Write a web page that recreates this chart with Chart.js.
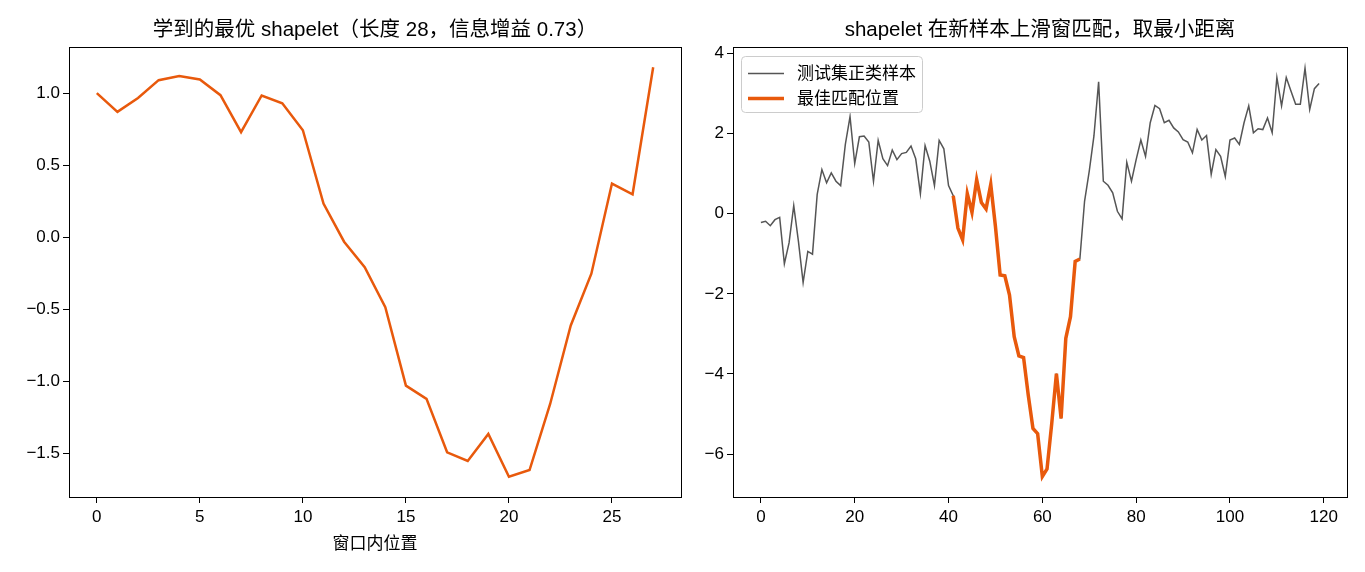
<!DOCTYPE html>
<html>
<head>
<meta charset="utf-8">
<script src="https://cdn.jsdelivr.net/npm/chart.js@4.4.0/dist/chart.umd.min.js"></script>
<style>
  body { margin: 0; background: #fff; }
  #wrap { position: relative; width: 1365px; height: 572px; }
  canvas { position: absolute; top: 0; }
</style>
</head>
<body>
<div id="wrap">
  <canvas id="left" width="700" height="572" style="left:0"></canvas>
  <canvas id="right" width="675" height="572" style="left:690px"></canvas>
</div>
<script>
// 左图：学到的 shapelet
const shapeletVals = [1.0, 0.87, 0.967, 1.09, 1.118, 1.095, 0.986, 0.73, 0.984, 0.93,
	0.743, 0.234, -0.03, -0.206, -0.484, -1.028, -1.12, -1.49, -1.55, -1.363,
	-1.66, -1.613, -1.155, -0.611, -0.252, 0.373, 0.299, 1.18];
const leftXTicks = [0, 5, 10, 15, 20, 25];
const leftYTicks = [-1.5, -1.0, -0.5, 0.0, 0.5, 1.0];

// 右图：测试集正类样本 + 最佳匹配位置
const sampleVals = [-0.22, -0.19, -0.3, -0.15, -0.09, -1.25, -0.73, 0.2, -0.69, -1.72,
	-0.94, -1.01, 0.48, 1.1, 0.77, 1.02, 0.81, 0.7, 1.73, 2.42,
	1.25, 1.92, 1.94, 1.79, 0.81, 1.83, 1.37, 1.2, 1.59, 1.35,
	1.5, 1.53, 1.69, 1.37, 0.5, 1.7, 1.31, 0.7, 1.83, 1.62,
	0.7, 0.45, -0.36, -0.65, 0.5, 0.03, 0.85, 0.28, 0.12, 0.73,
	-0.32, -1.53, -1.55, -2.03, -3.07, -3.55, -3.59, -4.53, -5.36, -5.49,
	-6.56, -6.37, -5.24, -3.99, -5.11, -3.11, -2.57, -1.19, -1.13, 0.31,
	1.06, 1.94, 3.29, 0.81, 0.71, 0.52, 0.06, -0.13, 1.28, 0.81,
	1.35, 1.84, 1.43, 2.27, 2.70, 2.62, 2.27, 2.33, 2.14, 2.04,
	1.85, 1.79, 1.52, 2.10, 1.84, 1.95, 0.98, 1.60, 1.43, 0.93,
	1.84, 1.89, 1.73, 2.27, 2.69, 2.02, 2.12, 2.10, 2.39, 2.02,
	3.40, 2.69, 3.40, 3.06, 2.73, 2.73, 3.63, 2.60, 3.12, 3.25];
const matchStart = 41;
const matchLen = 28;
const rightXTicks = [0, 20, 40, 60, 80, 100, 120];
const rightYTicks = [-6, -4, -2, 0, 2, 4];

const legendLabels = ["测试集正类样本", "最佳匹配位置"];

const ORANGE = "#e8590c";
const GREY = "#555555";
const FONT = "'Liberation Sans', 'Noto Sans CJK SC', sans-serif";

Chart.defaults.font.family = FONT;
Chart.defaults.color = "#000";

function pts(vals, start) {
	return vals.map((v, i) => ({ x: i + start, y: v }));
}
function minus(s) { return String(s).replace("-", "\u2212"); }

// 四边黑框（matplotlib 风格）
const framePlugin = {
	id: "frame",
	afterDraw(chart) {
		const a = chart.chartArea, ctx = chart.ctx;
		ctx.save();
		ctx.strokeStyle = "#000";
		ctx.lineWidth = 1;
		ctx.strokeRect(Math.round(a.left) + 0.5, Math.round(a.top) + 0.5,
			Math.round(a.right - a.left), Math.round(a.bottom - a.top));
		ctx.restore();
	}
};

// 图内左上角图例
const boxLegend = {
	id: "boxLegend",
	afterDraw(chart) {
		const a = chart.chartArea, ctx = chart.ctx;
		const x = a.left + 8.5, y = a.top + 9.5, w = 181, h = 56;
		ctx.save();
		ctx.fillStyle = "rgba(255,255,255,0.8)";
		ctx.strokeStyle = "#cccccc";
		ctx.lineWidth = 1;
		ctx.beginPath();
		ctx.roundRect(x, y, w, h, 4);
		ctx.fill();
		ctx.stroke();
		const styles = [[GREY, 1.5], [ORANGE, 3.5]];
		ctx.font = "17px " + FONT;
		ctx.textBaseline = "middle";
		ctx.fillStyle = "#000";
		legendLabels.forEach((lab, i) => {
			const ly = y + 17 + i * 25;
			ctx.strokeStyle = styles[i][0];
			ctx.lineWidth = styles[i][1];
			ctx.beginPath();
			ctx.moveTo(x + 6.5, ly);
			ctx.lineTo(x + 42.5, ly);
			ctx.stroke();
			ctx.fillText(lab, x + 55.5, ly + 1);
		});
		ctx.restore();
	}
};

function axes(xmin, xmax, xticks, ymin, ymax, yticks, yfmt, yWidth, xTitle) {
	return {
		x: {
			type: "linear", min: xmin, max: xmax,
			afterBuildTicks: s => { s.ticks = xticks.map(v => ({ value: v })); },
			afterFit: s => { s.height = 75; },
			grid: { drawOnChartArea: false, tickLength: 6, tickColor: "#000", color: "#000" },
			border: { color: "#000" },
			ticks: { font: { size: 17 }, padding: 4, maxRotation: 0, autoSkip: false,
				callback: v => minus(v) },
			title: xTitle ? { display: true, text: xTitle, font: { size: 17 },
				padding: { top: 4, bottom: 17 } } : { display: false }
		},
		y: {
			type: "linear", min: ymin, max: ymax,
			afterBuildTicks: s => { s.ticks = yticks.map(v => ({ value: v })); },
			afterFit: s => { s.width = yWidth; },
			grid: { drawOnChartArea: false, tickLength: 6, tickColor: "#000", color: "#000" },
			border: { color: "#000" },
			ticks: { font: { size: 17 }, padding: 3, autoSkip: false,
				callback: v => minus(yfmt(v)) }
		}
	};
}

function titleOpt(text) {
	return { display: true, text: text, fullSize: false, color: "#000",
		font: { size: 20.5, weight: "normal", lineHeight: 1.2 },
		padding: { top: 18.5, bottom: 3.9 } };
}

new Chart(document.getElementById("left"), {
	type: "line",
	data: {
		datasets: [{
			data: pts(shapeletVals, 0),
			borderColor: ORANGE, borderWidth: 2.5, pointRadius: 0, tension: 0
		}]
	},
	options: {
		responsive: false, animation: false, devicePixelRatio: 1,
		layout: { padding: { left: 0, right: 19, top: 0, bottom: 0 } },
		plugins: {
			legend: { display: false }, tooltip: { enabled: false },
			title: titleOpt("学到的最优 shapelet（长度 28，信息增益 0.73）")
		},
		scales: axes(-1.35, 28.35, leftXTicks, -1.80, 1.32, leftYTicks, v => v.toFixed(1), 69, "窗口内位置")
	},
	plugins: [framePlugin]
});

new Chart(document.getElementById("right"), {
	type: "line",
	data: {
		datasets: [{
			label: legendLabels[0],
			data: pts(sampleVals, 0),
			borderColor: GREY, borderWidth: 1.5, pointRadius: 0, tension: 0, order: 1
		}, {
			label: legendLabels[1],
			data: pts(sampleVals.slice(matchStart, matchStart + matchLen), matchStart),
			borderColor: ORANGE, borderWidth: 3.5, pointRadius: 0, tension: 0, order: 0
		}]
	},
	options: {
		responsive: false, animation: false, devicePixelRatio: 1,
		layout: { padding: { left: 0, right: 18, top: 0, bottom: 0 } },
		plugins: {
			legend: { display: false }, tooltip: { enabled: false },
			title: titleOpt("shapelet 在新样本上滑窗匹配，取最小距离")
		},
		scales: axes(-5.95, 124.95, rightXTicks, -7.07, 4.16, rightYTicks, v => String(v), 43, null)
	},
	plugins: [framePlugin, boxLegend]
});
</script>
</body>
</html>
